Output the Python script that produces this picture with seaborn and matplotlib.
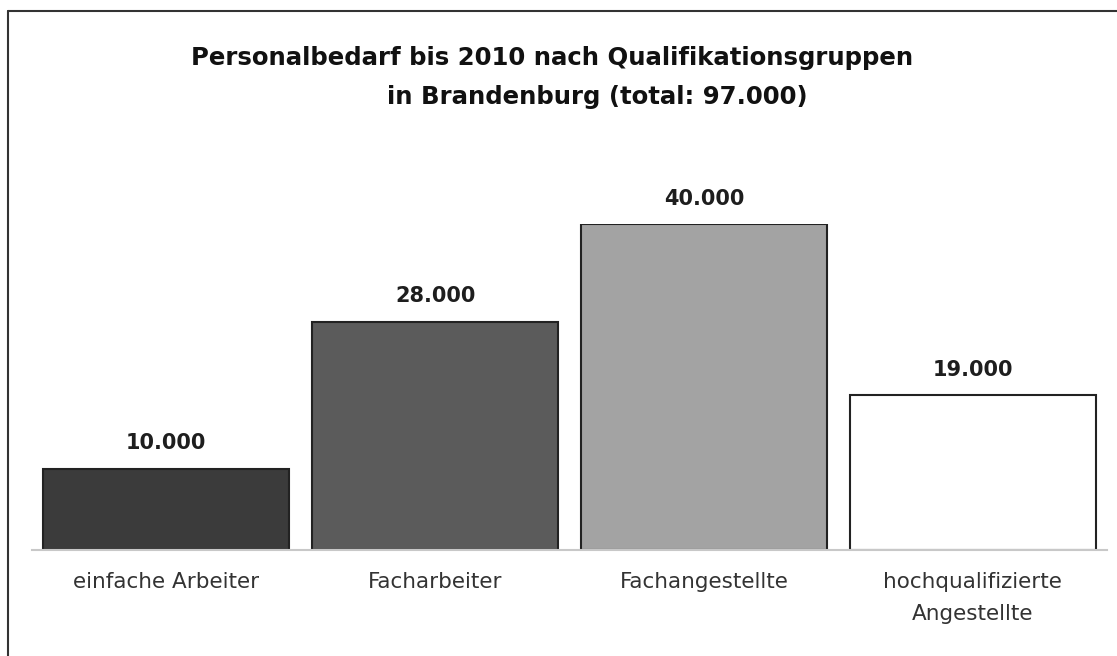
import pandas as pd
import numpy as np
import matplotlib
matplotlib.use('Agg')
import matplotlib.pyplot as plt
import seaborn as sns
from matplotlib.lines import Line2D

# Daten
kategorien = ['einfache Arbeiter', 'Facharbeiter', 'Fachangestellte', 'hochqualifizierte\nAngestellte']
bedarf = [10000, 28000, 40000, 19000]
beschriftung = ['10.000', '28.000', '40.000', '19.000']
farben = ['#3b3b3b', '#5b5b5b', '#a3a3a3', '#ffffff']

df = pd.DataFrame({'Gruppe': kategorien, 'Bedarf': bedarf})

sns.set_style('white')
plt.rcParams['font.family'] = ['DejaVu Sans']

fig = plt.figure(figsize=(11.17, 6.56), dpi=100)
ax = fig.add_axes([32 / 1117, 106 / 656, 1075 / 1117, 326 / 656])

sns.barplot(data=df, x='Gruppe', y='Bedarf', hue='Gruppe', palette=farben,
            legend=False, width=0.915, edgecolor='#222222', linewidth=1.5, ax=ax)

ax.set_xlim(-0.5, 3.5)
ax.set_ylim(0, 40000)
for s in ['top', 'right', 'left']:
    ax.spines[s].set_visible(False)
ax.spines['bottom'].set_color('#c8c8c8')
ax.spines['bottom'].set_linewidth(1.5)
ax.set_yticks([])
ax.set_xlabel('')
ax.set_ylabel('')
ax.tick_params(axis='x', length=0, pad=16, labelsize=15.5, colors='#333333')
for lbl in ax.get_xticklabels():
    lbl.set_linespacing(1.75)
    lbl.set_verticalalignment('top')

# Werte über den Balken
for i, (v, t) in enumerate(zip(bedarf, beschriftung)):
    ax.text(i, v + 1900, t, ha='center', va='bottom', fontsize=15,
            fontweight='bold', color='#1e1e1e', clip_on=False)

# Titel
fig.text(552 / 1117, 1 - 58 / 656, 'Personalbedarf bis 2010 nach Qualifikationsgruppen',
         ha='center', va='center', fontsize=17.6, fontweight='bold', color='#111111')
fig.text(597 / 1117, 1 - 97 / 656, 'in Brandenburg (total: 97.000)',
         ha='center', va='center', fontsize=17.6, fontweight='bold', color='#111111')

# Rahmen (oben und links)
fig.add_artist(Line2D([8 / 1117, 1], [1 - 11 / 656, 1 - 11 / 656], color='#333333', lw=1.5,
                      transform=fig.transFigure))
fig.add_artist(Line2D([8 / 1117, 8 / 1117], [0, 1 - 11 / 656], color='#333333', lw=1.5,
                      transform=fig.transFigure))

fig.savefig('out.png', dpi=100)
